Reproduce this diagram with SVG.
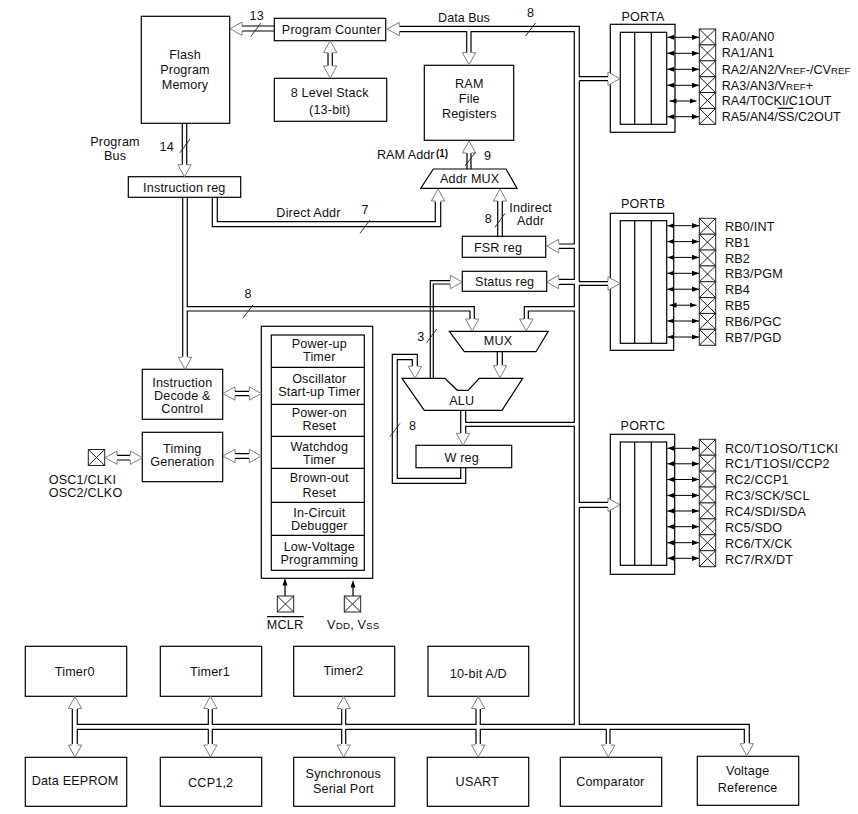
<svg xmlns="http://www.w3.org/2000/svg" xmlns:xlink="http://www.w3.org/1999/xlink" width="858" height="814" viewBox="0 0 858 814">
<style>
text{font-family:"Liberation Sans",Arial,sans-serif;font-size:12.6px;letter-spacing:.18px;fill:#111}
.m{text-anchor:middle}
.c{letter-spacing:0}
.s{font-size:9.8px}
.b{fill:#fff;stroke:#000;stroke-width:1.2}
.n{fill:none;stroke:#000;stroke-width:1.2}
.w{fill:none;stroke:#000;stroke-width:1.2}
.t{fill:none;stroke:#222;stroke-width:.9}
.h{fill:#fff;stroke:#7f7f7f;stroke-width:1}
.pa{stroke:#000;stroke-width:1;fill:none;marker-start:url(#bh);marker-end:url(#bh)}
.p{fill:#fff;stroke:#222;stroke-width:1}
</style>
<defs>
<path id="hd" class="h" d="M-12-2.5V-6.7L0 0-12 6.7V2.5"/>
<marker id="bh" markerUnits="userSpaceOnUse" markerWidth="8" markerHeight="6" refX="7" refY="3" orient="auto-start-reverse"><path d="M0 .4L7 3 0 5.6z" fill="#000"/></marker>
<g id="pin"><rect class="p" width="16.4" height="16"/><path class="p" d="M0 0L16.4 16M16.4 0L0 16"/></g>
</defs>
<rect width="858" height="814" fill="#fff"/>
<g id="flash"><rect class="b" x="141.3" y="16.3" width="88.4" height="107"/><text class="m" x="185" y="59">Flash</text><text class="m" x="185" y="74">Program</text><text class="m" x="185" y="89">Memory</text></g>
<g id="program-counter"><rect class="b" x="274.3" y="18.3" width="111.4" height="22.4"/><text class="m" x="331.5" y="34">Program Counter</text></g>
<g id="stack"><rect class="b" x="274.3" y="78.3" width="112.4" height="43"/><text class="m" x="329.7" y="97">8 Level Stack</text><text class="m" x="329.7" y="113.5">(13-bit)</text></g>
<g id="instruction-reg"><rect class="b" x="128.3" y="176.7" width="112.4" height="20.6"/><text class="m" x="184.3" y="192">Instruction reg</text></g>
<g id="ram"><rect class="b" x="424.3" y="65.3" width="89.4" height="75"/><text class="m" x="469.3" y="88">RAM</text><text class="m" x="469.3" y="103">File</text><text class="m" x="469.3" y="118">Registers</text></g>
<g id="addr-mux"><path class="b" d="M433.3 169H506L517 188.3H420.7z"/><text class="m" x="469.7" y="183">Addr MUX</text></g>
<g id="fsr-reg"><rect class="b" x="462.3" y="236.3" width="83.4" height="21"/><text class="m" x="498" y="252">FSR reg</text></g>
<g id="status-reg"><rect class="b" x="462.3" y="271.3" width="84.4" height="20"/><text class="m" x="504.7" y="286">Status reg</text></g>
<g id="mux"><path class="b" d="M449.3 331.3H548.3L536 351.7H464.3z"/><text class="m" x="498" y="345">MUX</text></g>
<g id="alu"><path class="b" d="M402 378.3H445L457.3 390.3H468L479.3 378.3H522.7L502 410.3H424.3z"/><text class="m" x="461.7" y="405">ALU</text></g>
<g id="w-reg"><rect class="b" x="416" y="445.3" width="95.7" height="22.4"/><text class="m" x="461.7" y="461.5">W reg</text></g>
<g id="decode"><rect class="b" x="142.3" y="369.3" width="80.4" height="50"/><text class="m" x="182.3" y="387">Instruction</text><text class="m" x="182.3" y="400">Decode &amp;</text><text class="m" x="182.3" y="413">Control</text></g>
<g id="timing"><rect class="b" x="142.3" y="432.3" width="80.4" height="49.4"/><text class="m" x="182.3" y="453">Timing</text><text class="m" x="182.3" y="466">Generation</text></g>
<g id="osc"><use xlink:href="#pin" x="88.3" y="449.5"/><text x="48.7" y="484">OSC1/CLKI</text><text x="48.7" y="497">OSC2/CLKO</text></g>
<g id="supervisor"><rect class="b" x="261.3" y="326.3" width="111.4" height="252"/><rect class="b" x="271.3" y="335" width="93" height="235.3"/>
<path class="n" d="M271.3 367.3H364.3M271.3 404.3H364.3M271.3 436.3H364.3M271.3 468.3H364.3M271.3 502.3H364.3M271.3 535.3H364.3"/>
<text class="m" x="319.3" y="348">Power-up</text><text class="m" x="319.3" y="361">Timer</text>
<text class="m" x="319.3" y="383">Oscillator</text><text class="m" x="319.3" y="396">Start-up Timer</text>
<text class="m" x="319.3" y="417">Power-on</text><text class="m" x="319.3" y="430">Reset</text>
<text class="m" x="319.3" y="451">Watchdog</text><text class="m" x="319.3" y="464">Timer</text>
<text class="m" x="319.3" y="482">Brown-out</text><text class="m" x="319.3" y="497">Reset</text>
<text class="m" x="319.3" y="517">In-Circuit</text><text class="m" x="319.3" y="530">Debugger</text>
<text class="m" x="319.3" y="551">Low-Voltage</text><text class="m" x="319.3" y="564">Programming</text></g>
<g id="mclr"><use xlink:href="#pin" x="277.3" y="596"/><line class="n" x1="267" y1="616.7" x2="303.7" y2="616.7"/><text class="m" x="285" y="628.5">MCLR</text></g>
<g id="vdd"><use xlink:href="#pin" x="344.3" y="596"/><text class="m" x="353.3" y="628.5">V<tspan class="s">DD</tspan>, V<tspan class="s">SS</tspan></text></g>
<g id="porta"><text class="m" x="643" y="21">PORTA</text><rect class="b" x="610.3" y="24.3" width="64.7" height="108"/><rect class="b" x="620.3" y="32.3" width="46.4" height="92"/><path class="n" d="M634.7 32.3V124.3M651.3 32.3V124.3"/>
<use xlink:href="#pin" x="699.3" y="29"/><use xlink:href="#pin" x="699.3" y="44.9"/><use xlink:href="#pin" x="699.3" y="60.8"/><use xlink:href="#pin" x="699.3" y="76.7"/><use xlink:href="#pin" x="699.3" y="92.5"/><use xlink:href="#pin" x="699.3" y="108.4"/>
<text class="c" x="721.7" y="41">RA0/AN0</text><text class="c" x="721.7" y="57">RA1/AN1</text><text class="c" x="721.7" y="74">RA2/AN2/V<tspan class="s">REF</tspan>-/CV<tspan class="s">REF</tspan></text><text class="c" x="721.7" y="89.5">RA3/AN3/V<tspan class="s">REF</tspan>+</text><text class="c" x="721.7" y="105">RA4/T0CKI/C1OUT</text><text class="c" x="721.7" y="121">RA5/AN4/SS/C2OUT</text><line class="n" x1="777.7" y1="108.3" x2="793.3" y2="108.3"/></g>
<g id="portb"><text class="m" x="643" y="207.5">PORTB</text><rect class="b" x="610.3" y="213.3" width="63.4" height="137"/><rect class="b" x="620.3" y="220.7" width="46.4" height="122.6"/><path class="n" d="M634.7 220.7V343.3M651.3 220.7V343.3"/>
<use xlink:href="#pin" x="699.3" y="218.3"/><use xlink:href="#pin" x="699.3" y="234.2"/><use xlink:href="#pin" x="699.3" y="250"/><use xlink:href="#pin" x="699.3" y="265.9"/><use xlink:href="#pin" x="699.3" y="281.7"/><use xlink:href="#pin" x="699.3" y="297.6"/><use xlink:href="#pin" x="699.3" y="313.4"/><use xlink:href="#pin" x="699.3" y="329.3"/>
<text x="725" y="231">RB0/INT</text><text x="725" y="247">RB1</text><text x="725" y="262.7">RB2</text><text x="725" y="278">RB3/PGM</text><text x="725" y="294">RB4</text><text x="725" y="310">RB5</text><text x="725" y="326">RB6/PGC</text><text x="725" y="342">RB7/PGD</text></g>
<g id="portc"><text class="m" x="643" y="430">PORTC</text><rect class="b" x="610.3" y="434.3" width="64.4" height="140"/><rect class="b" x="620.3" y="442" width="46.4" height="123.3"/><path class="n" d="M634.7 442V565.3M651.3 442V565.3"/>
<use xlink:href="#pin" x="699.3" y="439.3"/><use xlink:href="#pin" x="699.3" y="455.2"/><use xlink:href="#pin" x="699.3" y="471.1"/><use xlink:href="#pin" x="699.3" y="487"/><use xlink:href="#pin" x="699.3" y="502.9"/><use xlink:href="#pin" x="699.3" y="518.8"/><use xlink:href="#pin" x="699.3" y="534.7"/><use xlink:href="#pin" x="699.3" y="550.7"/>
<text x="725" y="453">RC0/T1OSO/T1CKI</text><text x="725" y="468">RC1/T1OSI/CCP2</text><text x="725" y="483.7">RC2/CCP1</text><text x="725" y="500">RC3/SCK/SCL</text><text x="725" y="515.5">RC4/SDI/SDA</text><text x="725" y="531.7">RC5/SDO</text><text x="725" y="547.7">RC6/TX/CK</text><text x="725" y="563.7">RC7/RX/DT</text></g>
<g id="timer0"><rect class="b" x="25.3" y="646.3" width="101.4" height="50"/><text class="m" x="74.7" y="676">Timer0</text></g>
<g id="timer1"><rect class="b" x="160.3" y="646.3" width="101.4" height="50"/><text class="m" x="210" y="676">Timer1</text></g>
<g id="timer2"><rect class="b" x="293.7" y="646.3" width="101" height="50"/><text class="m" x="343.3" y="675">Timer2</text></g>
<g id="ad"><rect class="b" x="428" y="646.3" width="100.7" height="50"/><text class="m" x="478.3" y="678">10-bit A/D</text></g>
<g id="eeprom"><rect class="b" x="25.3" y="757.3" width="101.4" height="49"/><text class="m" x="75" y="785">Data EEPROM</text></g>
<g id="ccp"><rect class="b" x="160.3" y="757.3" width="101.4" height="49"/><text class="m" x="210.7" y="787">CCP1,2</text></g>
<g id="ssp"><rect class="b" x="293.7" y="757.3" width="101" height="49"/><text class="m" x="343.3" y="778">Synchronous</text><text class="m" x="343.3" y="793">Serial Port</text></g>
<g id="usart"><rect class="b" x="427.3" y="757.3" width="101.4" height="49"/><text class="m" x="477.3" y="785.5">USART</text></g>
<g id="comparator"><rect class="b" x="560.3" y="757.3" width="101.4" height="49"/><text class="m" x="610.3" y="786">Comparator</text></g>
<g id="vref"><rect class="b" x="697.3" y="756.3" width="101.4" height="49"/><text class="m" x="747.7" y="775">Voltage</text><text class="m" x="747.7" y="792">Reference</text></g>
<g id="connectors">
<path class="w" d="M399.3 26.3H579.3V76.7H608M579.3 80.7H608M579.3 80.7V281.7H608M579.3 285.3H608M579.3 285.3V502.3H608M579.3 507.3H608M579.3 507.3V724.3H749.3V743.3"/>
<path class="w" d="M399.3 31.7H466.7V53.3M471 53.3V31.7H574.3V244H559M559 248.3H574.3V279.3H559M559 284.3H574.3V306.7H524.3V319M528.3 319V311H574.3V422.3H465.7V410.3M460.7 410.3V434M465.7 434V426.3H574.3V724.3H480.3V709M476 709V724.3H345.7V709M341.7 709V724.3H212.3V709M208.3 709V724.3H77.3V709M72.3 709V744M77.3 744V729.3H208.3V744M212.3 744V729.3H341.7V744M345.7 744V729.3H476V744M480.3 744V729.3H606.3V744M610 744V729.3H744.3V743.3"/>
<path class="w" d="M241.7 26H274.3M241.7 31H274.3M328 52.3V65.7M332.3 52.3V65.7M182.3 123.3V165M186.7 123.3V165"/>
<path class="w" d="M182.7 197.3V356.7M187.3 197.3V306.7H474.3V319M470 319V311H187.3V356.7"/>
<path class="w" d="M217.3 197.3V221.7H435.3V201.7M212.3 197.3V226.7H440.7V201.7"/>
<path class="w" d="M467 169V152.3M471 169V152.3M497.7 236.3V201M502.3 236.3V201"/>
<path class="w" d="M430.3 378.3V280.7H450.7M433.3 378.3V284H450.7M497.3 351.7V365M502.3 351.7V365"/>
<path class="w" d="M460.7 467.7V478.3H397.3V359.7H412.3V366M465.7 467.7V483.3H392.3V354.3H417.3V366"/>
<path class="w" d="M234.7 391.3H249.3M234.7 395.7H249.3M234.7 453.7H249.3M234.7 458.3H249.3M116.3 455.3H130.3M116.3 460H130.3"/>
<g id="hollow-heads">
<use xlink:href="#hd" transform="translate(230 28.7) rotate(180)"/>
<use xlink:href="#hd" transform="translate(387.3 29) rotate(180)"/>
<use xlink:href="#hd" transform="translate(330.2 40.7) rotate(-90)"/>
<use xlink:href="#hd" transform="translate(330.2 78) rotate(90)"/>
<use xlink:href="#hd" transform="translate(184.5 176.7) rotate(90)"/>
<use xlink:href="#hd" transform="translate(469 64.7) rotate(90)"/>
<use xlink:href="#hd" transform="translate(620 78.7)"/>
<use xlink:href="#hd" transform="translate(620 283.5)"/>
<use xlink:href="#hd" transform="translate(620 504.8)"/>
<use xlink:href="#hd" transform="translate(469 141) rotate(-90)"/>
<use xlink:href="#hd" transform="translate(438 189) rotate(-90)"/>
<use xlink:href="#hd" transform="translate(500 189) rotate(-90)"/>
<use xlink:href="#hd" transform="translate(546.7 246)  rotate(180)"/>
<use xlink:href="#hd" transform="translate(546.7 282) rotate(180)"/>
<use xlink:href="#hd" transform="translate(462.3 282)"/>
<use xlink:href="#hd" transform="translate(472.2 331) rotate(90)"/>
<use xlink:href="#hd" transform="translate(526.3 331) rotate(90)"/>
<use xlink:href="#hd" transform="translate(415 378.3) rotate(90)"/>
<use xlink:href="#hd" transform="translate(500 377.7) rotate(90)"/>
<use xlink:href="#hd" transform="translate(463 445.3) rotate(90)"/>
<use xlink:href="#hd" transform="translate(185 369.3) rotate(90)"/>
<use xlink:href="#hd" transform="translate(223 393.5) rotate(180)"/>
<use xlink:href="#hd" transform="translate(261.3 393.5)"/>
<use xlink:href="#hd" transform="translate(223 456) rotate(180)"/>
<use xlink:href="#hd" transform="translate(261.3 456)"/>
<use xlink:href="#hd" transform="translate(105 457.7) rotate(180)"/>
<use xlink:href="#hd" transform="translate(142.3 457.7)"/>
<use xlink:href="#hd" transform="translate(75 696.5) rotate(-90)"/>
<use xlink:href="#hd" transform="translate(210.4 696.5) rotate(-90)"/>
<use xlink:href="#hd" transform="translate(343.7 696.5) rotate(-90)"/>
<use xlink:href="#hd" transform="translate(478.2 696.5) rotate(-90)"/>
<use xlink:href="#hd" transform="translate(75 757) rotate(90)"/>
<use xlink:href="#hd" transform="translate(210.4 757) rotate(90)"/>
<use xlink:href="#hd" transform="translate(343.7 757) rotate(90)"/>
<use xlink:href="#hd" transform="translate(478.2 757) rotate(90)"/>
<use xlink:href="#hd" transform="translate(608.2 757) rotate(90)"/>
<use xlink:href="#hd" transform="translate(746.8 755.7) rotate(90)"/>
</g>
<g id="bus-ticks">
<path class="t" d="M250.7 36.7L260.7 23.3M180 152.7L190 139M360 233.3L370 220M525.3 36.3L535.7 22.7M465 166L475.3 152.3M495 227.3L505 213.3M243 318L253 305M426.7 342.7L436.7 329M390 436.7L400 423.3"/>
<text class="m" x="256.7" y="20">13</text>
<text class="m" x="166.7" y="151">14</text>
<text class="m" x="365" y="214">7</text>
<text class="m" x="530.7" y="17">8</text>
<text class="m" x="487.7" y="160">9</text>
<text class="m" x="488.3" y="223">8</text>
<text class="m" x="248" y="298">8</text>
<text class="m" x="420.8" y="341">3</text>
<text class="m" x="412.5" y="430">8</text>
</g>
<g id="bus-labels">
<text class="m" x="115" y="145.5">Program</text>
<text class="m" x="115" y="160">Bus</text>
<text class="m" x="308.5" y="217">Direct Addr</text>
<text class="m c" x="464" y="22">Data Bus</text>
<text class="c" x="377" y="159">RAM Addr<tspan font-size="10" font-weight="bold" dx="1.5" dy="-2.5">(1)</tspan></text>
<text class="m" x="530.7" y="212">Indirect</text>
<text class="m" x="530.7" y="225">Addr</text>
</g>
<g id="port-arrows">
<line class="pa" x1="667.3" y1="37.3" x2="699" y2="37.3"/><line class="pa" x1="667.3" y1="53.3" x2="699" y2="53.3"/><line class="pa" x1="667.3" y1="69.3" x2="699" y2="69.3"/><line class="pa" x1="667.3" y1="85.3" x2="699" y2="85.3"/><line class="pa" x1="669.5" y1="101" x2="696.5" y2="101"/><line class="pa" x1="667.3" y1="116.7" x2="699" y2="116.7"/>
<line class="pa" x1="667.3" y1="225.7" x2="699" y2="225.7"/><line class="pa" x1="667.3" y1="241.6" x2="699" y2="241.6"/><line class="pa" x1="667.3" y1="257.4" x2="699" y2="257.4"/><line class="pa" x1="667.3" y1="273.3" x2="699" y2="273.3"/><line class="pa" x1="667.3" y1="289.2" x2="699" y2="289.2"/><line class="pa" x1="669.5" y1="305.2" x2="696.5" y2="305.2"/><line class="pa" x1="667.3" y1="321" x2="699" y2="321"/><line class="pa" x1="667.3" y1="337" x2="699" y2="337"/>
<line class="pa" x1="667.3" y1="448.3" x2="699" y2="448.3"/><line class="pa" x1="667.3" y1="463.8" x2="699" y2="463.8"/><line class="pa" x1="667.3" y1="479.5" x2="699" y2="479.5"/><line class="pa" x1="667.3" y1="495.4" x2="699" y2="495.4"/><line class="pa" x1="667.3" y1="511" x2="699" y2="511"/><line class="pa" x1="667.3" y1="526.7" x2="699" y2="526.7"/><line class="pa" x1="667.3" y1="542.7" x2="699" y2="542.7"/><line class="pa" x1="667.3" y1="558.3" x2="699" y2="558.3"/>
<path class="n" d="M285 596V584M353 596V586"/>
<path d="M285 578L282.5 585.5H287.5zM353 580L350.5 587.5H355.5z"/>
</g>
</g>
</svg>
